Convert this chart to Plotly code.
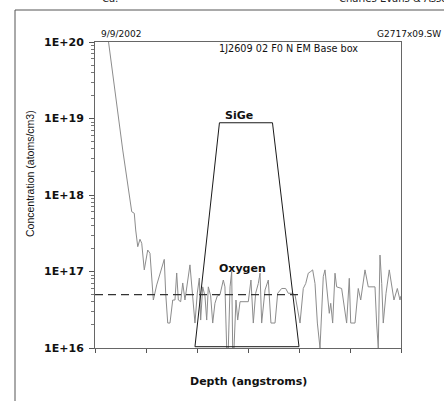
import plotly.graph_objects as go

# ---------------- data ----------------
oxygen_depth = [120, 272, 360, 385, 399, 419, 441, 458, 483, 517, 539, 572, 605, 679, 693, 713, 735,
                762, 784, 801, 817, 840, 860, 882, 931, 954, 980, 1003, 1023, 1036, 1056, 1078, 1095,
                1111, 1134, 1154, 1176, 1199, 1225, 1258, 1274, 1291, 1307, 1324, 1340, 1350, 1363,
                1382, 1399, 1422, 1503, 1529, 1552, 1575, 1601, 1618, 1634, 1667, 1699, 1725, 1765,
                1791, 1830, 1869, 1895, 1928, 1961, 2010, 2042, 2066, 2091, 2115, 2134, 2157, 2180,
                2206, 2222, 2238, 2255, 2278, 2297, 2311, 2330, 2353, 2369, 2418, 2451, 2467, 2493,
                2507, 2549, 2581, 2605, 2647, 2679, 2745, 2761, 2777, 2794, 2811, 2826, 2853, 2885,
                2909, 2931, 2964, 2990, 3000]
oxygen_conc = [1.35e20, 3.87e18, 6.05e17, 5.77e17, 3.49e17, 2.11e17, 2.64e17, 2.34e17, 1.05e17, 1.91e17,
               1.73e17, 4.24e16, 6.67e16, 1.44e17, 5.19e16, 2.12e16, 2.12e16, 4.24e16, 4.24e16, 9.56e16,
               4.24e16, 4.03e16, 7.08e16, 4.24e16, 1.22e17, 5.73e16, 2.12e16, 5.24e16, 8.22e16, 2.32e16,
               6.3e16, 4.8e16, 2.32e16, 6.3e16, 4.8e16, 2.12e16, 3.84e16, 4.8e16, 4.95e16, 7.74e16,
               6.3e16, 1.0e16, 1.0e16, 6.3e16, 1.0e17, 1.0e16, 1.0e16, 4.24e16, 2.32e16, 4.03e16,
               4.03e16, 7.74e16, 2.12e16, 5.19e16, 6.97e16, 9.5e16, 2.12e16, 5.73e16, 7.74e16, 2.12e16,
               2.12e16, 5.19e16, 6.0e16, 6.0e16, 5.19e16, 5.19e16, 4.95e16, 2.12e16, 6.0e16, 6.97e16,
               9.5e16, 1.0e17, 1.05e17, 6.97e16, 2.12e16, 1.0e16, 3.14e16, 8.55e16, 1.05e17, 5.19e16,
               2.84e16, 3.84e16, 2.12e16, 9.5e16, 6.3e16, 6.0e16, 3.14e16, 2.12e16, 8.15e16, 2.12e16,
               2.12e16, 6.0e16, 4.24e16, 1.05e17, 6.3e16, 6.3e16, 2.12e16, 1.0e16, 1.64e17, 6.97e16,
               2.12e16, 5.19e16, 1.05e17, 6.3e16, 4.24e16, 6.0e16, 4.24e16, 4.8e16]

sige_depth = [980, 1220, 1740, 2000, 980]
sige_conc = [1.04e16, 8.8e18, 8.8e18, 1.04e16, 1.04e16]

oxygen_bg_depth = [0, 1990]
oxygen_bg_conc = [5.0e16, 5.0e16]

y_tickvals = [1e16, 1e17, 1e18, 1e19, 1e20]
y_ticktext = ["1E+16", "1E+17", "1E+18", "1E+19", "1E+20"]
y_minorvals = [float(m) * 10.0 ** e for e in range(16, 20) for m in range(2, 10)]
x_tickvals = [0, 500, 1000, 1500, 2000, 2500, 3000]

# ---------------- figure ----------------
W, H = 444, 401
L, R, T, B = 95, 43, 42, 53
pw, ph = W - L - R, H - T - B


def px(x):
    return (x - L) / pw


def py(y):
    return 1 - (y - T) / ph


fig = go.Figure()
fig.add_trace(go.Scatter(x=oxygen_depth, y=oxygen_conc, mode="lines",
                         line=dict(color="#8c8c8c", width=1), showlegend=False))
fig.add_trace(go.Scatter(x=sige_depth, y=sige_conc, mode="lines",
                         line=dict(color="#1a1a1a", width=1), showlegend=False))
fig.add_trace(go.Scatter(x=oxygen_bg_depth, y=oxygen_bg_conc, mode="lines",
                         line=dict(color="#333333", width=1.3, dash="8px,5px"), showlegend=False))

bold = dict(family="DejaVu Sans", size=11, color="#111")

fig.update_layout(
    width=W, height=H, margin=dict(l=L, r=R, t=T, b=B),
    paper_bgcolor="white", plot_bgcolor="white",
    xaxis=dict(range=[0, 3000], tickvals=x_tickvals, showticklabels=False,
               ticks="outside", ticklen=4, tickcolor="#555", showgrid=False, zeroline=False,
               showline=True, linecolor="#666", linewidth=1, mirror=True),
    yaxis=dict(type="log", range=[16, 20], tickvals=y_tickvals, ticktext=y_ticktext,
               ticks="outside", ticklen=5, tickcolor="#555", showgrid=False, zeroline=False,
               showline=True, linecolor="#666", linewidth=1, mirror=True,
               tickfont=dict(family="DejaVu Sans", size=11, color="#111", weight="bold"),
               ticklabelstandoff=3,
               minor=dict(tickmode="array", tickvals=y_minorvals, ticks="outside", ticklen=3,
                          tickcolor="#777", showgrid=False)),
)

annots = [
    dict(text="<b>Depth (angstroms)</b>", x=px(248), y=py(381), font=bold),
    dict(text="Concentration (atoms/cm3)", x=px(30), y=py(174), textangle=-90,
         font=dict(family="Liberation Sans", size=10.5, color="#111")),
    dict(text="<b>SiGe</b>", x=px(239), y=py(115), font=bold),
    dict(text="<b>Oxygen</b>", x=px(242), y=py(268), font=bold),
    dict(text="1J2609 02 F0 N EM Base box", x=px(288), y=py(48),
         font=dict(family="DejaVu Sans", size=9.7, color="#111")),
    dict(text="9/9/2002", x=px(99), y=py(34), xanchor="left",
         font=dict(family="DejaVu Sans", size=9, color="#111")),
    dict(text="G2717x09.SW", x=px(443), y=py(34), xanchor="right",
         font=dict(family="DejaVu Sans", size=9, color="#111")),
    dict(text="Ca:", x=px(100), y=py(6), xanchor="left", yanchor="bottom",
         font=dict(family="DejaVu Sans", size=10, color="#222")),
    dict(text="Charles Evans & Associates", x=px(337), y=py(6), xanchor="left", yanchor="bottom",
         font=dict(family="DejaVu Sans", size=10, color="#222")),
]
for a in annots:
    a.setdefault("xanchor", "center")
    a.setdefault("yanchor", "middle")
    fig.add_annotation(xref="paper", yref="paper", showarrow=False, **a)

# outer page frame (partial border)
fig.add_shape(type="line", xref="paper", yref="paper", x0=px(15), x1=px(444), y0=py(10), y1=py(10),
              line=dict(color="#555", width=1))
fig.add_shape(type="line", xref="paper", yref="paper", x0=px(15), x1=px(15), y0=py(10), y1=py(401),
              line=dict(color="#555", width=1))

fig.write_html("out.html", config={"displayModeBar": False},
               post_script="document.body.style.margin='0px';document.body.style.overflow='hidden';")
